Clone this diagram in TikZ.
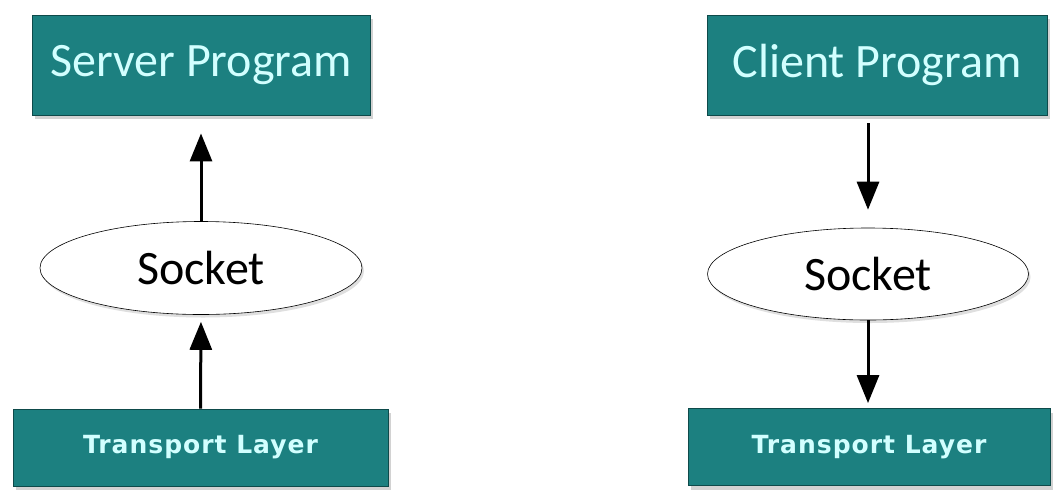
\documentclass[tikz,border=0pt]{standalone}
\usepackage{fontspec}
\setmainfont{Carlito}
\newfontfamily\layerfont[LetterSpace=4]{DejaVu Sans}
\usetikzlibrary{arrows.meta,shadows,shapes.geometric}

\definecolor{boxteal}{RGB}{28,128,128}
\definecolor{boxedge}{RGB}{14,74,74}
\definecolor{boxtext}{RGB}{210,255,255}

\begin{document}
\begin{tikzpicture}[x=1pt, y=-1pt, >={Triangle[length=28pt,width=22pt]}]
    \useasboundingbox[fill=white] (0,0) rectangle (1056,501);

    \tikzset{
        progbox/.style={draw=boxedge, fill=boxteal, thick, text=boxtext,
            font=\fontsize{48}{52}\selectfont,
            drop shadow={opacity=0.35, shadow xshift=3pt, shadow yshift=-4pt}},
        layerbox/.style={progbox, font=\layerfont\bfseries\fontsize{25}{29}\selectfont},
        sockell/.style={draw, ellipse, fill=white, semithick,
            font=\fontsize{48}{52}\selectfont,
            drop shadow={opacity=0.25, shadow xshift=2pt, shadow yshift=-3pt}},
        flow/.style={->, line width=3pt}
    }

    % Lato server
    \node[progbox, minimum width=338pt, minimum height=100pt] (sProg) at (201,65) {Server Program};
    \node[sockell, minimum width=322pt, minimum height=93pt] (sSock) at (201,268) {Socket};
    \node[layerbox, minimum width=375pt, minimum height=77pt] (sTrans) at (200.5,447.5) {Transport Layer};

    % Lato client
    \node[progbox, minimum width=340pt, minimum height=100pt] (cProg) at (877,65) {Client Program};
    \node[sockell, minimum width=321pt, minimum height=92pt] (cSock) at (868,274) {Socket};
    \node[layerbox, minimum width=362pt, minimum height=77pt] (cTrans) at (869,447) {Transport Layer};

    % Frecce verso l'alto (server)
    \draw[flow, shorten >=7pt] (sTrans.north) -- (sSock.south);
    \draw[flow, shorten >=18pt] (sSock.north) -- (sSock.north |- sProg.south);

    % Frecce verso il basso (client)
    \draw[flow, shorten <=8pt, shorten >=18pt] (cSock.north |- cProg.south) -- (cSock.north);
    \draw[flow, shorten >=5pt] (cSock.south) -- (cSock.south |- cTrans.north);

\end{tikzpicture}
\end{document}
